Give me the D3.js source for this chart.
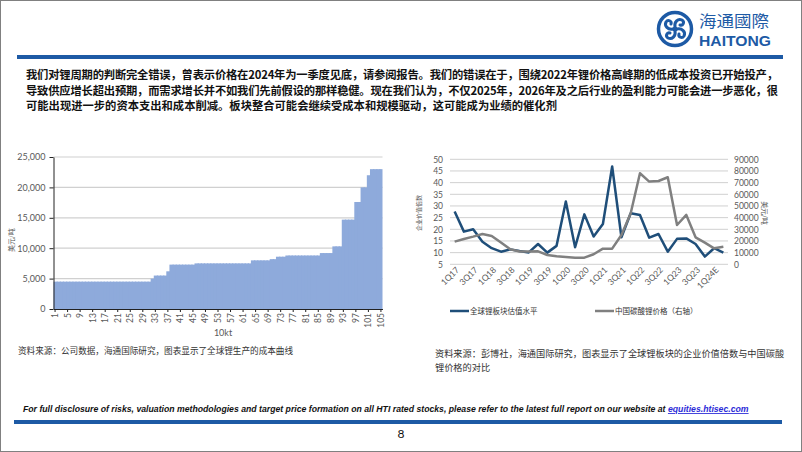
<!DOCTYPE html>
<html>
<head>
<meta charset="utf-8">
<script src="https://cdn.jsdelivr.net/npm/d3@7"></script>
<style>
  body { margin: 0; background: #fff; }
  svg { display: block; font-family: "Noto Sans CJK SC", sans-serif; }
</style>
</head>
<body>
<svg id="page" width="802" height="452"></svg>
<script>
// ---- text ----
const summaryLines = [
    "我们对锂周期的判断完全错误，曾表示价格在2024年为一季度见底，请参阅报告。我们的错误在于，围绕2022年锂价格高峰期的低成本投资已开始投产，",
    "导致供应增长超出预期，而需求增长并不如我们先前假设的那样稳健。现在我们认为，不仅2025年，2026年及之后行业的盈利能力可能会进一步恶化，很",
    "可能出现进一步的资本支出和成本削减。板块整合可能会继续受成本和规模驱动，这可能成为业绩的催化剂"
];

// ---- left chart: cost curve (USD/t per 10kt of supply) ----
const costCategories = d3.range(1, 106);
const costValues = [
    4500, 4500, 4500, 4500, 4500, 4500, 4500, 4500, 4500, 4500,
    4500, 4500, 4500, 4500, 4500, 4500, 4500, 4500, 4500, 4500,
    4500, 4500, 4500, 4500, 4500, 4500, 4500, 4500, 4500, 4500,
    4500, 5000, 5500, 5500, 5500, 5500, 6200, 7300, 7300, 7300,
    7300, 7300, 7300, 7300, 7300, 7500, 7500, 7500, 7500, 7500,
    7500, 7500, 7500, 7500, 7500, 7500, 7500, 7500, 7500, 7500,
    7500, 7500, 7500, 8000, 8000, 8000, 8000, 8000, 8000, 8200,
    8200, 8600, 8600, 8600, 8800, 8800, 8800, 8800, 8800, 8800,
    8800, 8800, 8800, 8800, 8800, 9200, 9200, 9200, 9200, 10300,
    10300, 10300, 14700, 14700, 14700, 14700, 17600, 17600, 20000, 20000,
    22000, 23000, 23000, 23000, 23000
];
const costXTicks = [1, 5, 9, 13, 17, 21, 25, 29, 33, 37, 41, 45, 49, 53, 57, 61, 65, 69, 73, 77, 81, 85, 89, 93, 97, 101, 105];
const costYTicks = [0, 5000, 10000, 15000, 20000, 25000];

// ---- right chart: EV multiple vs China lithium carbonate price ----
const quarters = [
    "1Q17", "2Q17", "3Q17", "4Q17", "1Q18", "2Q18", "3Q18", "4Q18",
    "1Q19", "2Q19", "3Q19", "4Q19", "1Q20", "2Q20", "3Q20", "4Q20",
    "1Q21", "2Q21", "3Q21", "4Q21", "1Q22", "2Q22", "3Q22", "4Q22",
    "1Q23", "2Q23", "3Q23", "4Q23", "1Q24E", "2Q24E"
];
const evMultiple = [
    27.6, 19, 20, 14.7, 11.9, 10.4, 11.4, 10.7, 10.1, 13.7,
    10, 12.9, 31.9, 12.3, 26.4, 16.9, 22.3, 46.9, 16.6, 26.9,
    26.1, 16.4, 18, 10.4, 15.9, 16.1, 13.7, 8.3, 11.9, 10
];
const carbonatePrice = [
    19400, 21700, 23700, 26000, 24300, 18600, 12900, 10900, 10900, 11100,
    8000, 6900, 6300, 5700, 5700, 8600, 13400, 13400, 25100, 43700,
    78000, 70900, 71400, 74600, 33700, 42300, 23100, 18600, 13700, 15100
];
const quarterTicks = ["1Q17", "3Q17", "1Q18", "3Q18", "1Q19", "3Q19", "1Q20", "3Q20", "1Q21", "3Q21", "1Q22", "3Q22", "1Q23", "3Q23", "1Q24E"];
const multipleTicks = [5, 10, 15, 20, 25, 30, 35, 40, 45, 50];
const priceTicks = [0, 10000, 20000, 30000, 40000, 50000, 60000, 70000, 80000, 90000];

const brandBlue = "#1d5aa5";
const latin = "Lato, 'Open Sans', sans-serif";

const svg = d3.select("#page");

// page frame
svg.append("rect")
    .attr("x", 0.5).attr("y", 0.5).attr("width", 801).attr("height", 451)
    .attr("fill", "none").attr("stroke", "#808080");

// ---- header logo ----
let logo = svg.append("g").attr("transform", "translate(675,29)");
logo.append("circle").attr("r", 16.5).attr("fill", "#fff")
    .attr("stroke", brandBlue).attr("stroke-width", 3.5);
[0, 90, 180, 270].forEach(a => {
    logo.append("path")
        .attr("transform", `rotate(${a})`)
        .attr("d", "M0,-2 C-1,-7 3,-11 7,-9 C10,-7 8,-3 5,-4")
        .attr("fill", "none").attr("stroke", brandBlue).attr("stroke-width", 3)
        .attr("stroke-linecap", "round");
});
logo.append("circle").attr("r", 2.5).attr("fill", brandBlue);
svg.append("text")
    .attr("x", 699).attr("y", 27)
    .attr("font-size", 16).attr("fill", brandBlue)
    .attr("textLength", 70).attr("lengthAdjust", "spacingAndGlyphs")
    .text("海通國際");
svg.append("text")
    .attr("x", 699).attr("y", 46)
    .attr("font-family", "'Liberation Sans Narrow', 'Liberation Sans', sans-serif")
    .attr("font-weight", "bold").attr("font-size", 14).attr("fill", brandBlue)
    .attr("textLength", 72).attr("lengthAdjust", "spacingAndGlyphs")
    .text("HAITONG");

// header / footer bands
svg.append("rect").attr("x", 17).attr("y", 55).attr("width", 766).attr("height", 4).attr("fill", brandBlue);
svg.append("rect").attr("x", 14).attr("y", 420).attr("width", 768).attr("height", 4).attr("fill", brandBlue);

// ---- summary paragraph ----
summaryLines.forEach((line, i) => {
    let t = svg.append("text")
        .attr("x", 26).attr("y", 79 + i * 15.5)
        .attr("font-size", 11.3).attr("font-weight", "bold").attr("fill", "#111")
        .text(line);
    if (i < 2) t.attr("textLength", 752).attr("lengthAdjust", "spacing");
});

// ---- left chart ----
const cx = d3.scaleBand().domain(costCategories).range([53.5, 382.5]).padding(0);
const cy = d3.scaleLinear().domain([0, 25000]).range([309, 157]);

let left = svg.append("g");
left.selectAll(".grid")
    .data(costYTicks.slice(1))
    .enter().append("line")
    .attr("class", "grid")
    .attr("x1", 53.5).attr("x2", 382.5)
    .attr("y1", d => cy(d)).attr("y2", d => cy(d))
    .attr("stroke", "#d0d0d0").attr("stroke-width", 1.2);

left.selectAll(".bar")
    .data(costValues)
    .enter().append("rect")
    .attr("class", "bar")
    .attr("x", (d, i) => cx(costCategories[i]))
    .attr("width", (d, i) => i < costValues.length - 1 ? cx.bandwidth() + 1.2 : cx.bandwidth())
    .attr("y", d => cy(d))
    .attr("height", d => cy(0) - cy(d))
    .attr("fill", "#8eaadb");

let cyAxis = left.append("g")
    .attr("transform", "translate(53.5,0)")
    .call(d3.axisLeft(cy).tickValues(costYTicks).tickSize(4).tickSizeOuter(0).tickPadding(4).tickFormat(d3.format(",")));
let cxAxis = left.append("g")
    .attr("transform", `translate(0,${cy(0)})`)
    .call(d3.axisBottom(cx).tickValues(costXTicks).tickSize(3).tickSizeOuter(0));
[cyAxis, cxAxis].forEach(a => {
    a.select(".domain").attr("stroke", "#222");
    a.selectAll(".tick line").attr("stroke", "#222");
    a.selectAll("text").attr("fill", "#595959").attr("font-family", latin).attr("font-size", 9);
});
cxAxis.selectAll("text")
    .attr("transform", "rotate(-90)")
    .attr("text-anchor", "end")
    .attr("x", -4).attr("y", 0).attr("dy", "0.35em")
    .attr("font-size", 8.5);

left.append("text")
    .attr("x", 223).attr("y", 336)
    .attr("text-anchor", "middle").attr("font-family", latin)
    .attr("font-size", 9).attr("fill", "#595959")
    .text("10kt");
left.append("text")
    .attr("transform", "translate(14,240) rotate(-90)")
    .attr("text-anchor", "middle").attr("font-size", 7).attr("fill", "#595959")
    .text("美元/吨");
left.append("text")
    .attr("x", 18).attr("y", 354)
    .attr("font-size", 8.6).attr("fill", "#333")
    .text("资料来源：公司数据，海通国际研究，图表显示了全球锂生产的成本曲线");

// ---- right chart ----
const qx = d3.scaleBand().domain(quarters).range([450, 728]).padding(0);
const ly = d3.scaleLinear().domain([5, 50]).range([264.3, 159.3]);
const ry = d3.scaleLinear().domain([0, 90000]).range([264.3, 159.3]);
const px = q => qx(q) + qx.bandwidth() / 2;

let right = svg.append("g");
right.selectAll(".grid")
    .data(multipleTicks)
    .enter().append("line")
    .attr("class", "grid")
    .attr("x1", 450).attr("x2", 728)
    .attr("y1", d => ly(d)).attr("y2", d => ly(d))
    .attr("stroke", "#d0d0d0").attr("stroke-width", 1);

let lyAxis = right.append("g").attr("transform", "translate(450,0)")
    .call(d3.axisLeft(ly).tickValues(multipleTicks).tickSize(0).tickPadding(7));
let ryAxis = right.append("g").attr("transform", "translate(728,0)")
    .call(d3.axisRight(ry).tickValues(priceTicks).tickSize(0).tickPadding(6).tickFormat(d3.format("d")));
let qAxis = right.append("g").attr("transform", "translate(0,264.3)")
    .call(d3.axisBottom(qx).tickValues(quarterTicks).tickSize(0));
[lyAxis, ryAxis, qAxis].forEach(a => {
    a.select(".domain").remove();
    a.selectAll("text").attr("fill", "#595959").attr("font-family", latin).attr("font-size", 8.5);
});
qAxis.selectAll("text")
    .attr("transform", "translate(3,4) rotate(-45)")
    .attr("text-anchor", "end")
    .attr("x", 0).attr("y", 0).attr("dy", "0.35em");

const evLine = d3.line().x((d, i) => px(quarters[i])).y(d => ly(d));
const priceLine = d3.line().x((d, i) => px(quarters[i])).y(d => ry(d));

right.append("path").datum(evMultiple)
    .attr("d", evLine).attr("fill", "none")
    .attr("stroke", "#1f4e79").attr("stroke-width", 2.5).attr("stroke-linejoin", "round");
right.append("path").datum(carbonatePrice)
    .attr("d", priceLine).attr("fill", "none")
    .attr("stroke", "#808080").attr("stroke-width", 2.5).attr("stroke-linejoin", "round");

right.append("text")
    .attr("transform", "translate(421,213) rotate(-90)")
    .attr("text-anchor", "middle").attr("font-size", 6).attr("fill", "#595959")
    .text("企业价值倍数");
right.append("text")
    .attr("transform", "translate(762,213) rotate(90)")
    .attr("text-anchor", "middle").attr("font-size", 7).attr("fill", "#595959")
    .text("美元/吨");

// legend
const legendItems = [
    { label: "全球锂板块估值水平", color: "#1f4e79", x: 450 },
    { label: "中国碳酸锂价格（右轴）", color: "#808080", x: 595 }
];
legendItems.forEach(d => {
    right.append("line")
        .attr("x1", d.x).attr("x2", d.x + 19).attr("y1", 311).attr("y2", 311)
        .attr("stroke", d.color).attr("stroke-width", 2.5);
    right.append("text")
        .attr("x", d.x + 20).attr("y", 314)
        .attr("font-size", 7.5).attr("fill", "#333")
        .text(d.label);
});

right.append("text")
    .attr("x", 435).attr("y", 357)
    .attr("font-size", 9.2).attr("fill", "#333")
    .text("资料来源：彭博社，海通国际研究，图表显示了全球锂板块的企业价值倍数与中国碳酸");
right.append("text")
    .attr("x", 435).attr("y", 371)
    .attr("font-size", 9.2).attr("fill", "#333")
    .text("锂价格的对比");

// ---- footer (one text, sized to span 23..750) ----
let foot = svg.append("text")
    .attr("x", 23).attr("y", 412)
    .attr("font-family", "'Liberation Sans Narrow', 'Liberation Sans', sans-serif")
    .attr("font-size", 10).attr("font-weight", "bold").attr("font-style", "italic")
    .attr("fill", "#111");
foot.append("tspan").text("For full disclosure of risks, valuation methodologies and target price formation on all HTI rated stocks, please refer to the latest full report on our website at ");
foot.append("tspan").attr("fill", "#2b2bd8").attr("text-decoration", "underline").text("equities.htisec.com");
let footLen = foot.node().getComputedTextLength();
foot.attr("font-size", 10 * 727 / footLen);

svg.append("text")
    .attr("x", 401).attr("y", 438)
    .attr("text-anchor", "middle").attr("font-family", latin)
    .attr("font-size", 12).attr("fill", "#111")
    .text("8");
</script>
</body>
</html>
